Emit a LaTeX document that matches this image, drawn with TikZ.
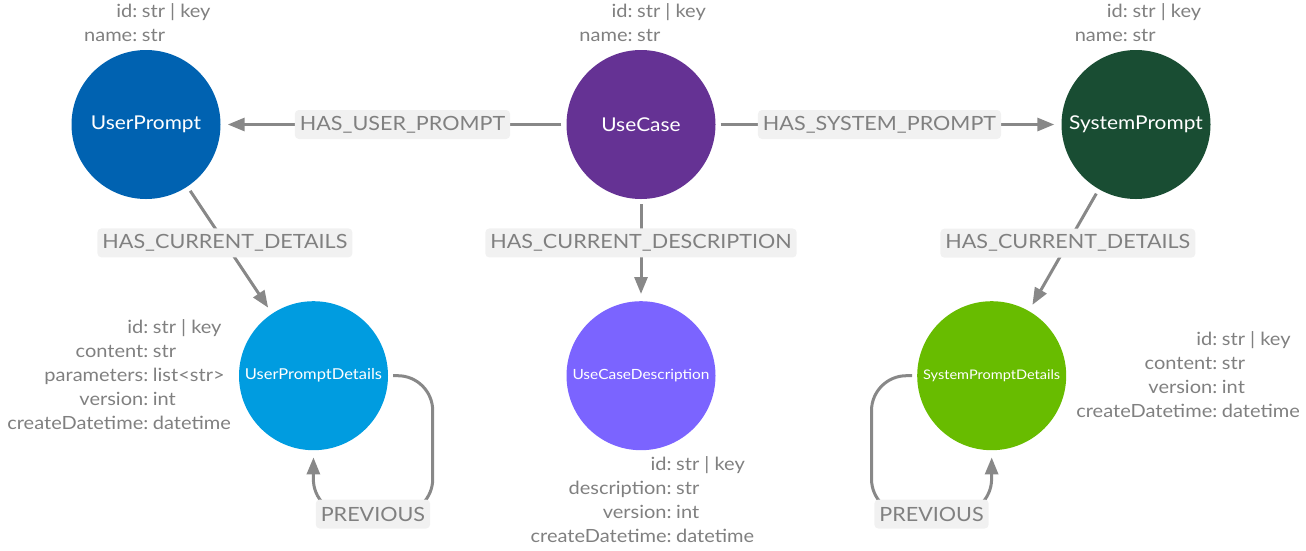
\documentclass[tikz,border=0pt]{standalone}
\usepackage{fontspec}
\setmainfont{Lato}[FakeStretch=1.1]
\usetikzlibrary{arrows.meta}
\definecolor{cUP}{HTML}{0062B1}
\definecolor{cUC}{HTML}{653294}
\definecolor{cSP}{HTML}{194D33}
\definecolor{cUPD}{HTML}{009CE0}
\definecolor{cUCD}{HTML}{7B64FF}
\definecolor{cSPD}{HTML}{68BC00}
\definecolor{txt}{HTML}{808080}
\definecolor{edgec}{HTML}{888888}
\definecolor{lblbg}{HTML}{F1F1F1}
\tikzset{
  ent/.style={circle, minimum size=149pt, inner sep=0pt, text=white},
  bigname/.style={font=\fontsize{19}{22}\selectfont},
  conn/.style={draw=edgec, line width=3pt, -{Triangle[length=17pt,width=13pt]}, shorten <=5pt, shorten >=7pt},
  rel/.style={fill=lblbg, text=txt, rounded corners=4pt, inner xsep=5pt, inner ysep=0pt, minimum height=29pt, font=\fontsize{19.6}{24}\selectfont},
  keys/.style={anchor=base east, inner sep=0pt, text=txt, font=\fontsize{18.2}{24}\selectfont},
  vals/.style={anchor=base west, inner sep=0pt, text=txt, font=\fontsize{18.2}{24}\selectfont},
}
\newcommand{\fitname}[1]{\resizebox{137pt}{!}{#1}}
\begin{document}
\begin{tikzpicture}[x=1pt,y=-1pt]
\path[use as bounding box] (0,0) rectangle (1306,550);
% entities
\node[ent, fill=cUP, bigname] (up) at (146,124.5) {UserPrompt};
\node[ent, fill=cUC, bigname] (uc) at (641,124.5) {UseCase};
\node[ent, fill=cSP, bigname] (sp) at (1136,124.5) {SystemPrompt};
\node[ent, fill=cUPD] (upd) at (313.5,375.7) {\fitname{UserPromptDetails}};
\node[ent, fill=cUCD] (ucd) at (641,375.7) {\fitname{UseCaseDescription}};
\node[ent, fill=cSPD] (spd) at (991.7,375.7) {\fitname{SystemPromptDetails}};
% properties
\node[keys] (upk) at (137.5,17.5) {\begin{tabular}[t]{@{}r@{}}id:\\name:\end{tabular}};
\node[vals] (upv) at (141.7,17.5) {\begin{tabular}[t]{@{}l@{}}str | key\\str\end{tabular}};
\node[keys] (uck) at (632.8,17.5) {\begin{tabular}[t]{@{}r@{}}id:\\name:\end{tabular}};
\node[vals] (ucv) at (637,17.5) {\begin{tabular}[t]{@{}l@{}}str | key\\str\end{tabular}};
\node[keys] (spk) at (1128.1,17.5) {\begin{tabular}[t]{@{}r@{}}id:\\name:\end{tabular}};
\node[vals] (spv) at (1132.3,17.5) {\begin{tabular}[t]{@{}l@{}}str | key\\str\end{tabular}};
\node[keys] (updk) at (148.5,333.3) {\begin{tabular}[t]{@{}r@{}}id:\\content:\\parameters:\\version:\\createDatetime:\end{tabular}};
\node[vals] (updv) at (152.7,333.3) {\begin{tabular}[t]{@{}l@{}}str | key\\str\\list<str>\\int\\datetime\end{tabular}};
\node[keys] (ucdk) at (671.8,470) {\begin{tabular}[t]{@{}r@{}}id:\\description:\\version:\\createDatetime:\end{tabular}};
\node[vals] (ucdv) at (676,470) {\begin{tabular}[t]{@{}l@{}}str | key\\str\\int\\datetime\end{tabular}};
\node[keys] (spdk) at (1217.5,345.7) {\begin{tabular}[t]{@{}r@{}}id:\\content:\\version:\\createDatetime:\end{tabular}};
\node[vals] (spdv) at (1221.7,345.7) {\begin{tabular}[t]{@{}l@{}}str | key\\str\\int\\datetime\end{tabular}};
% relationships
\draw[conn] (uc) -- node[rel, pos=0.474] (l1) {HAS\_USER\_PROMPT} (up);
\draw[conn] (uc) -- node[rel, pos=0.474] (l2) {HAS\_SYSTEM\_PROMPT} (sp);
\draw[conn] (uc) -- node[rel, pos=0.43] (l3) {HAS\_CURRENT\_DESCRIPTION} (ucd);
\draw[conn] (up) -- node[rel, pos=0.443] (l4) {HAS\_CURRENT\_DETAILS} (upd);
\draw[conn] (sp) -- node[rel, pos=0.443] (l5) {HAS\_CURRENT\_DETAILS} (spd);
\draw[conn, rounded corners=35pt] (upd.east) -- ++(44.5,0) -- ++(0,138.3) -- node[rel, pos=0.5] (l6) {PREVIOUS} ++(-119.5,0) -- (upd.south);
\draw[conn, rounded corners=35pt] (spd.west) -- ++(-45.5,0) -- ++(0,138.3) -- node[rel, pos=0.5] (l7) {PREVIOUS} ++(120,0) -- (spd.south);
\end{tikzpicture}
\end{document}
